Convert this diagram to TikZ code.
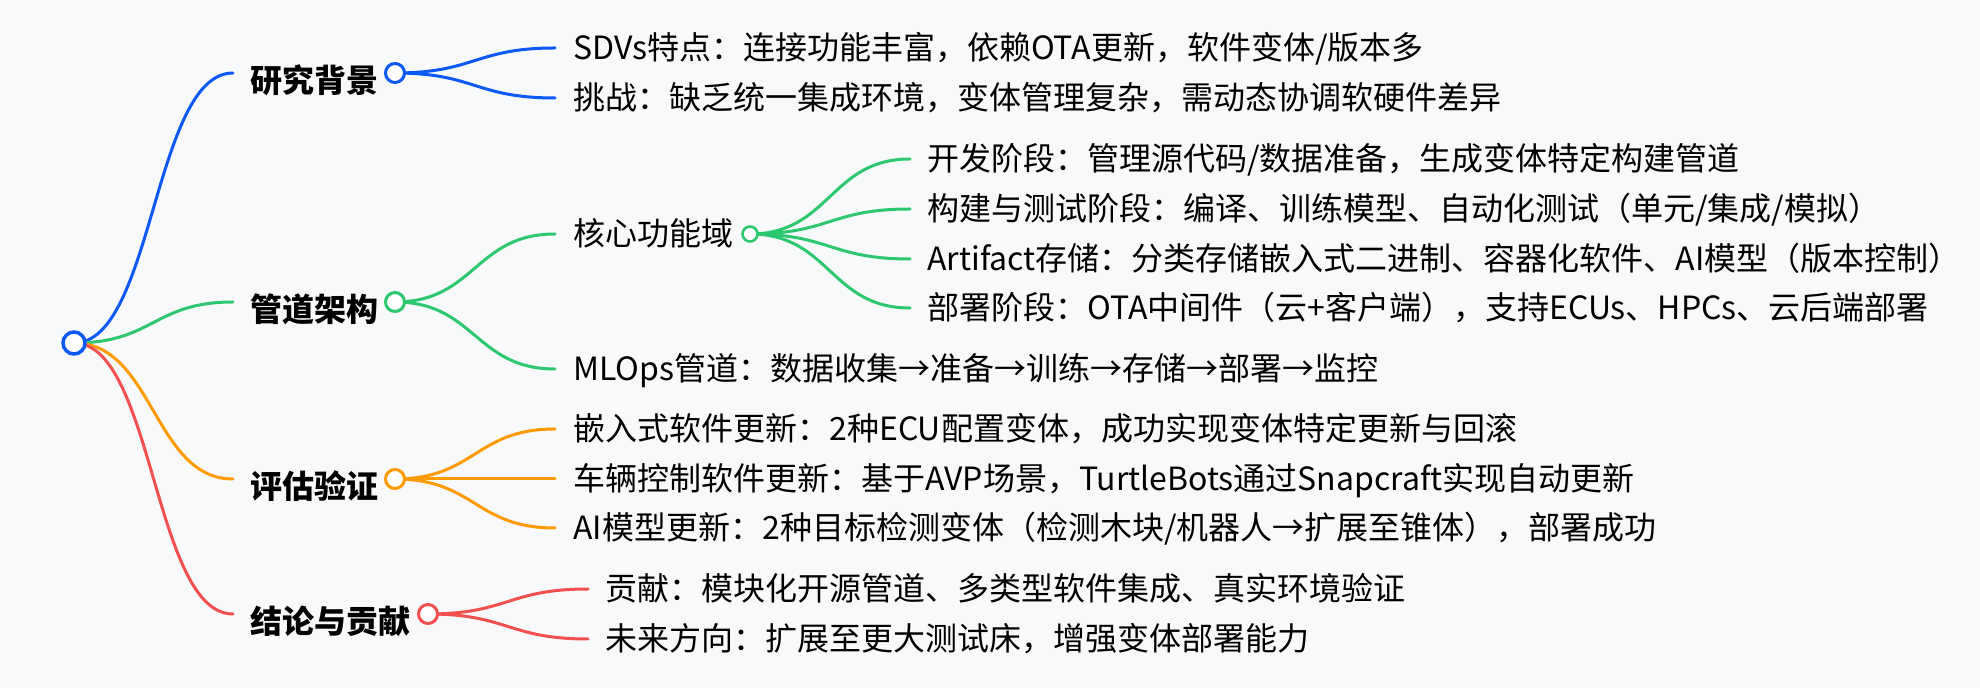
\documentclass[tikz,border=0pt]{standalone}
\usepackage{fontspec}
\setmainfont{Noto Sans CJK SC}
\usetikzlibrary{calc}
\definecolor{bgc}{HTML}{F8F9FB}
\definecolor{cblue}{HTML}{0B5AF6}
\definecolor{cgreen}{HTML}{2DC86E}
\definecolor{corange}{HTML}{FF9A00}
\definecolor{cred}{HTML}{F2504F}
\newcommand\mlink[3]{\draw[link,#1] let \p1=(#2), \p2=(#3) in (\p1) .. controls ({(\x1+\x2)/2},\y1) and ({(\x1+\x2)/2},\y2) .. (\p2);}
\begin{document}
\begin{tikzpicture}[x=0.5pt,y=-0.5pt,
  txtone/.style={anchor=base west, inner sep=0pt, font=\fontsize{16pt}{20pt}\selectfont\bfseries, text=black},
  txttwo/.style={anchor=base west, inner sep=0pt, font=\fontsize{16pt}{20pt}\selectfont, text=black},
  link/.style={line width=1.5pt, line cap=round},
  dotroot/.style={circle, fill=white, draw=cblue, line width=1.75pt, inner sep=0pt, minimum size=11pt},
  dotone/.style={circle, fill=white, line width=1.5pt, inner sep=0pt, minimum size=9.5pt},
  dottwo/.style={circle, fill=white, line width=1.3pt, inner sep=0pt, minimum size=7.5pt}]
\fill[bgc] (0,0) rectangle (1980,688);
% coordinates
\coordinate (rootc) at (74,343);
\coordinate (c1) at (395,73);
\coordinate (c2) at (395,302);
\coordinate (c3) at (395,479);
\coordinate (c4) at (428,614);
\coordinate (gc) at (750,234);
\coordinate (e1) at (233,73);
\coordinate (e2) at (233,302);
\coordinate (e3) at (233,479);
\coordinate (e4) at (233,614);
\coordinate (f1) at (555,48);
\coordinate (f2) at (555,98);
\coordinate (g1) at (555,234);
\coordinate (g2) at (555,369);
\coordinate (h1) at (910,159);
\coordinate (h2) at (910,209);
\coordinate (h3) at (910,259);
\coordinate (h4) at (910,308);
\coordinate (o1) at (555,429);
\coordinate (o2) at (555,479);
\coordinate (o3) at (555,528);
\coordinate (r1) at (588,589);
\coordinate (r2) at (588,639);
% links
\mlink{cblue}{rootc}{e1}
\mlink{cgreen}{rootc}{e2}
\mlink{corange}{rootc}{e3}
\mlink{cred}{rootc}{e4}
\mlink{cblue}{c1}{f1}
\mlink{cblue}{c1}{f2}
\mlink{cgreen}{c2}{g1}
\mlink{cgreen}{c2}{g2}
\mlink{cgreen}{gc}{h1}
\mlink{cgreen}{gc}{h2}
\mlink{cgreen}{gc}{h3}
\mlink{cgreen}{gc}{h4}
\mlink{corange}{c3}{o1}
\mlink{corange}{c3}{o2}
\mlink{corange}{c3}{o3}
\mlink{cred}{c4}{r1}
\mlink{cred}{c4}{r2}
% circles
\node[dotroot] (root) at (rootc) {};
\node[dotone, draw=cblue] (n1) at (c1) {};
\node[dotone, draw=cgreen] (n2) at (c2) {};
\node[dotone, draw=corange] (n3) at (c3) {};
\node[dotone, draw=cred] (n4) at (c4) {};
\node[dottwo, draw=cgreen] (ng) at (gc) {};
% level 1 texts
\node[txtone] (t1) at (250,93) {研究背景};
\node[txtone] (t2) at (250,322) {管道架构};
\node[txtone] (t3) at (250,499) {评估验证};
\node[txtone] (t4) at (250,634) {结论与贡献};
% level 2 texts
\node[txttwo] (u1) at (573,60) {SDVs特点：连接功能丰富，依赖OTA更新，软件变体/版本多};
\node[txttwo] (u2) at (573,110) {挑战：缺乏统一集成环境，变体管理复杂，需动态协调软硬件差异};
\node[txttwo] (u3) at (573,246) {核心功能域};
\node[txttwo] (u4) at (573,381) {MLOps管道：数据收集→准备→训练→存储→部署→监控};
\node[txttwo] (v1) at (927,171) {开发阶段：管理源代码/数据准备，生成变体特定构建管道};
\node[txttwo] (v2) at (927,221) {构建与测试阶段：编译、训练模型、自动化测试（单元/集成/模拟）};
\node[txttwo] (v3) at (927,271) {Artifact存储：分类存储嵌入式二进制、容器化软件、AI模型（版本控制）};
\node[txttwo] (v4) at (927,320) {部署阶段：OTA中间件（云+客户端），支持ECUs、HPCs、云后端部署};
\node[txttwo] (w1) at (573,441) {嵌入式软件更新：2种ECU配置变体，成功实现变体特定更新与回滚};
\node[txttwo] (w2) at (573,491) {车辆控制软件更新：基于AVP场景，TurtleBots通过Snapcraft实现自动更新};
\node[txttwo] (w3) at (573,540) {AI模型更新：2种目标检测变体（检测木块/机器人→扩展至锥体），部署成功};
\node[txttwo] (x1) at (605,601) {贡献：模块化开源管道、多类型软件集成、真实环境验证};
\node[txttwo] (x2) at (605,651) {未来方向：扩展至更大测试床，增强变体部署能力};
\end{tikzpicture}
\end{document}
